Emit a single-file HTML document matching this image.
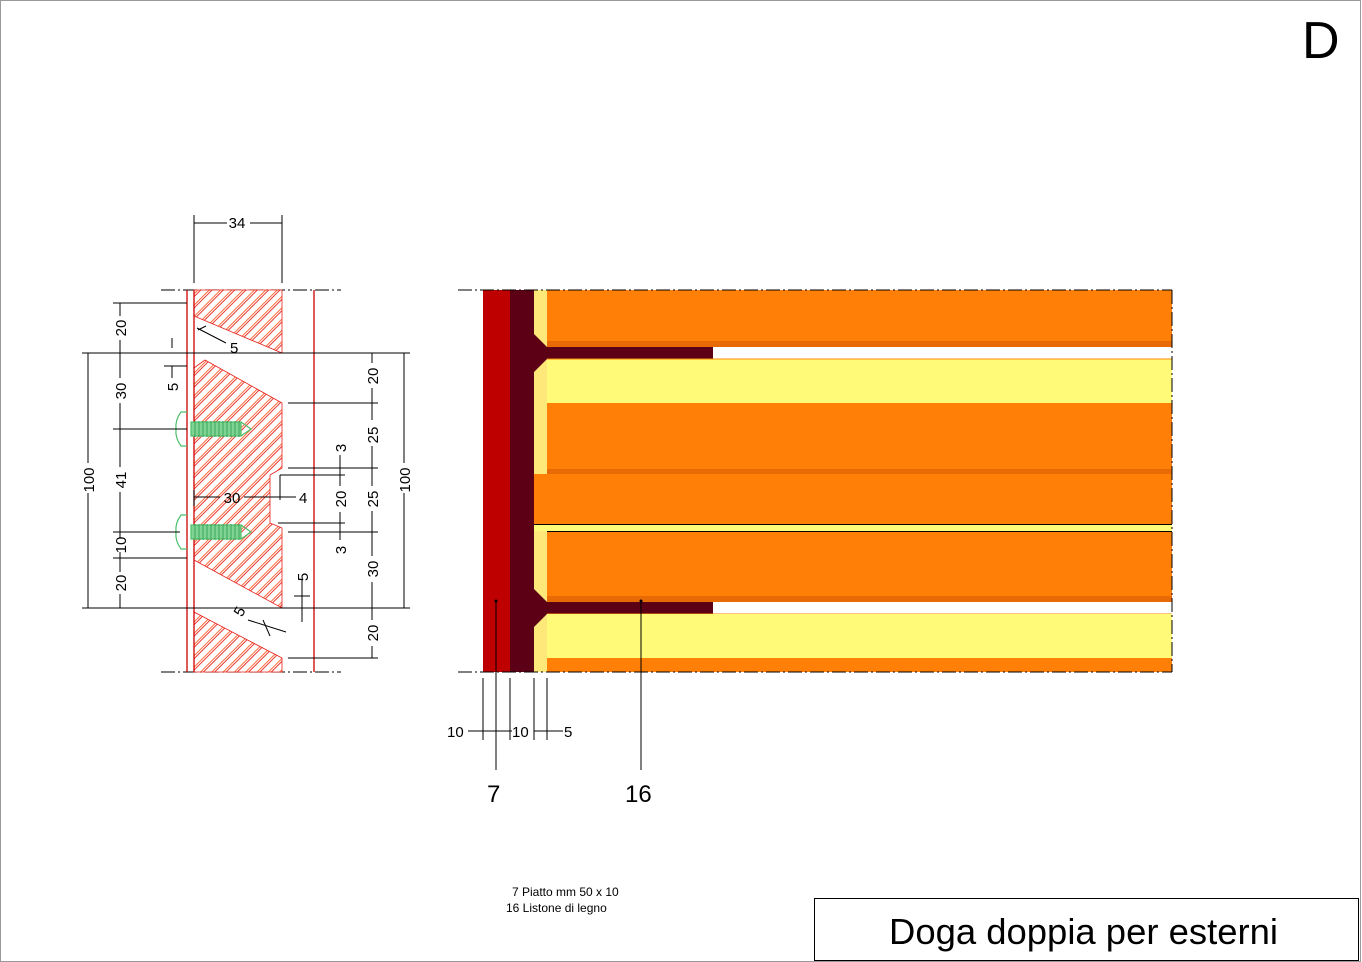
<!DOCTYPE html>
<html><head><meta charset="utf-8"><style>
html,body{margin:0;padding:0;background:#fff}
svg{display:block}
text{font-family:"Liberation Sans",sans-serif;fill:#000}
</style></head><body>
<svg width="1362" height="962" viewBox="0 0 1362 962" xmlns="http://www.w3.org/2000/svg">
<defs>
<pattern id="h" patternUnits="userSpaceOnUse" width="8" height="8" patternTransform="rotate(-45)">
<rect width="8" height="8" fill="#fff"/>
<line x1="0" y1="1" x2="8" y2="1" stroke="#ff5a20" stroke-width="0.9"/>
<line x1="0" y1="3" x2="8" y2="3" stroke="#e8201a" stroke-width="0.9"/>
</pattern>
</defs>
<rect x="0.5" y="0.5" width="1360" height="961" fill="#fff" stroke="#999"/>
<text x="1302" y="58" font-size="52">D</text>

<!-- LEFT SECTION -->
<g stroke="#000" stroke-width="1" stroke-dasharray="14,3,2,3" fill="none">
<line x1="161" y1="290" x2="341" y2="290"/>
<line x1="161" y1="672" x2="341" y2="672"/>
</g>
<polygon points="194,290 282,290 282,353 194,316" fill="url(#h)" stroke="#e8201a" stroke-width="0.8"/>
<polygon points="194,368 205,360 282,403 282,468 270,475 270,523 282,528 282,608 194,560" fill="url(#h)" stroke="#e8201a" stroke-width="0.8"/>
<polygon points="194,612 282,658 282,672 194,672" fill="url(#h)" stroke="#e8201a" stroke-width="0.8"/>
<g stroke="#d00000" stroke-width="1.3">
<line x1="187" y1="290" x2="187" y2="672"/>
<line x1="194" y1="290" x2="194" y2="672"/>
<line x1="314" y1="290" x2="314" y2="672"/>
</g>
<!-- screws -->
<g stroke="#4cbe6a" stroke-width="1.2" fill="none">
<path d="M187,412 h-6 q-6,8 -5,17 q-1,9 5,17 h6"/>
<path d="M187,515 h-6 q-6,8 -5,17 q-1,9 5,17 h6"/>
<rect x="191" y="422" width="50" height="14" fill="#7fd493"/>
<rect x="191" y="525" width="50" height="14" fill="#7fd493"/>
<path d="M241,422 l10,7 l-10,7"/>
<path d="M241,525 l10,7 l-10,7"/>
</g>
<g stroke="#2e9a4a" stroke-width="0.8">
<path d="M195,421 v16 M199,421 v16 M203,421 v16 M207,421 v16 M211,421 v16 M215,421 v16 M219,421 v16 M223,421 v16 M227,421 v16 M231,421 v16 M235,421 v16 M239,421 v16"/>
<path d="M195,524 v16 M199,524 v16 M203,524 v16 M207,524 v16 M211,524 v16 M215,524 v16 M219,524 v16 M223,524 v16 M227,524 v16 M231,524 v16 M235,524 v16 M239,524 v16"/>
</g>
<!-- dimension lines -->
<g stroke="#000" stroke-width="1" fill="none">
<line x1="82" y1="353" x2="410" y2="353"/>
<line x1="82" y1="608" x2="410" y2="608"/>
<line x1="113" y1="303" x2="187" y2="303"/>
<line x1="113" y1="429" x2="187" y2="429"/>
<line x1="113" y1="532" x2="180" y2="532"/>
<line x1="113" y1="558" x2="187" y2="558"/>
<line x1="88" y1="353" x2="88" y2="463"/><line x1="88" y1="493" x2="88" y2="608"/>
<line x1="120" y1="303" x2="120" y2="316"/><line x1="120" y1="340" x2="120" y2="378"/><line x1="120" y1="403" x2="120" y2="467"/><line x1="120" y1="492" x2="120" y2="538"/><line x1="120" y1="552" x2="120" y2="572"/><line x1="120" y1="594" x2="120" y2="608"/>
<line x1="172" y1="338" x2="172" y2="348"/><line x1="164" y1="366" x2="187" y2="366"/><line x1="172" y1="366" x2="172" y2="378"/>
<line x1="194" y1="215" x2="194" y2="283"/><line x1="282" y1="215" x2="282" y2="283"/>
<line x1="194" y1="223" x2="227" y2="223"/><line x1="250" y1="223" x2="282" y2="223"/>
<line x1="194" y1="490" x2="194" y2="506"/><line x1="194" y1="497" x2="220" y2="497"/><line x1="244" y1="497" x2="270" y2="497"/>
<line x1="270" y1="497" x2="296" y2="497"/>
<line x1="288" y1="403" x2="378" y2="403"/>
<line x1="288" y1="468" x2="378" y2="468"/>
<line x1="280" y1="475" x2="345" y2="475"/>
<line x1="278" y1="523" x2="345" y2="523"/>
<line x1="288" y1="532" x2="378" y2="532"/>
<line x1="288" y1="658" x2="378" y2="658"/>
<line x1="280" y1="475" x2="280" y2="500"/>
<line x1="372" y1="353" x2="372" y2="363"/><line x1="372" y1="388" x2="372" y2="420"/><line x1="372" y1="446" x2="372" y2="486"/><line x1="372" y1="511" x2="372" y2="556"/><line x1="372" y1="582" x2="372" y2="620"/><line x1="372" y1="646" x2="372" y2="658"/>
<line x1="404" y1="353" x2="404" y2="463"/><line x1="404" y1="493" x2="404" y2="608"/>
<line x1="340" y1="455" x2="340" y2="486"/><line x1="340" y1="512" x2="340" y2="540"/>
<line x1="302" y1="580" x2="302" y2="622"/><line x1="294" y1="596" x2="310" y2="596"/>
<line x1="197" y1="328" x2="226" y2="343"/><line x1="198" y1="330" x2="206" y2="326"/>
<line x1="248" y1="620" x2="286" y2="632"/><line x1="263" y1="620" x2="270" y2="636"/>
</g>
<g font-size="15">
<text x="237" y="228" text-anchor="middle">34</text>
<text x="230" y="353">5</text>
<text x="232" y="503" text-anchor="middle">30</text>
<text x="299" y="503">4</text>
<g transform="translate(94,480) rotate(-90)"><text text-anchor="middle">100</text></g>
<g transform="translate(126,328) rotate(-90)"><text text-anchor="middle">20</text></g>
<g transform="translate(126,391) rotate(-90)"><text text-anchor="middle">30</text></g>
<g transform="translate(126,480) rotate(-90)"><text text-anchor="middle">41</text></g>
<g transform="translate(126,545) rotate(-90)"><text text-anchor="middle">10</text></g>
<g transform="translate(126,583) rotate(-90)"><text text-anchor="middle">20</text></g>
<g transform="translate(178,387) rotate(-90)"><text text-anchor="middle">5</text></g>
<g transform="translate(378,376) rotate(-90)"><text text-anchor="middle">20</text></g>
<g transform="translate(378,435) rotate(-90)"><text text-anchor="middle">25</text></g>
<g transform="translate(378,499) rotate(-90)"><text text-anchor="middle">25</text></g>
<g transform="translate(378,569) rotate(-90)"><text text-anchor="middle">30</text></g>
<g transform="translate(378,633) rotate(-90)"><text text-anchor="middle">20</text></g>
<g transform="translate(410,480) rotate(-90)"><text text-anchor="middle">100</text></g>
<g transform="translate(346,448) rotate(-90)"><text text-anchor="middle">3</text></g>
<g transform="translate(346,499) rotate(-90)"><text text-anchor="middle">20</text></g>
<g transform="translate(346,550) rotate(-90)"><text text-anchor="middle">3</text></g>
<g transform="translate(308,577) rotate(-90)"><text text-anchor="middle">5</text></g>
<g transform="translate(244,614) rotate(-60)"><text text-anchor="middle">5</text></g>
</g>

<!-- RIGHT SECTION -->
<rect x="483" y="290" width="27" height="382" fill="#be0000"/>
<rect x="510" y="290" width="24" height="382" fill="#5c0016"/>
<rect x="534" y="290" width="13" height="382" fill="#ffe87a"/>
<rect x="547" y="290" width="625" height="51" fill="#ff7f07"/>
<rect x="547" y="341" width="625" height="6" fill="#e86a04"/>
<rect x="547" y="347" width="166" height="12" fill="#5c0016"/>
<rect x="547" y="359" width="625" height="44" fill="#fffa78"/>
<line x1="547" y1="359" x2="1172" y2="359" stroke="#ff8a00"/>
<rect x="547" y="403" width="625" height="66" fill="#ff7f07"/>
<rect x="547" y="469" width="625" height="5" fill="#e86a04"/>
<rect x="534" y="474" width="638" height="50" fill="#ff7f07"/>
<rect x="534" y="524" width="638" height="7" fill="#fffa78"/>
<line x1="534" y1="524.5" x2="1172" y2="524.5" stroke="#000"/>
<line x1="547" y1="531.5" x2="1172" y2="531.5" stroke="#000"/>
<rect x="547" y="532" width="625" height="64" fill="#ff7f07"/>
<rect x="547" y="596" width="625" height="6" fill="#e86a04"/>
<rect x="547" y="602" width="166" height="12" fill="#5c0016"/>
<line x1="547" y1="614" x2="1172" y2="614" stroke="#ff8a00"/>
<rect x="547" y="614" width="625" height="44" fill="#fffa78"/>
<rect x="547" y="658" width="625" height="14" fill="#ff7f07"/>
<polygon points="534,334 547,347 547,359 534,372" fill="#5c0016"/>
<polygon points="534,589 547,602 547,614 534,627" fill="#5c0016"/>
<line x1="1172" y1="290" x2="1172" y2="672" stroke="#000" stroke-dasharray="14,3,2,3"/>
<g stroke="#000" stroke-dasharray="14,3,2,3">
<line x1="458" y1="290" x2="1172" y2="290"/>
<line x1="458" y1="672" x2="1172" y2="672"/>
</g>
<g stroke="#000" stroke-width="1">
<line x1="483" y1="678" x2="483" y2="740"/>
<line x1="510" y1="678" x2="510" y2="740"/>
<line x1="534" y1="678" x2="534" y2="740"/>
<line x1="547" y1="678" x2="547" y2="740"/>
<line x1="468" y1="731" x2="512" y2="731"/>
<line x1="534" y1="731" x2="563" y2="731"/>
<line x1="496" y1="600" x2="496" y2="770"/>
<line x1="641" y1="600" x2="641" y2="770"/>
</g>
<circle cx="496" cy="601" r="1.5"/><circle cx="641" cy="601" r="1.5"/>
<g font-size="15">
<text x="447" y="737">10</text>
<text x="512" y="737">10</text>
<text x="564" y="737">5</text>
</g>
<text x="487" y="802" font-size="24">7</text>
<text x="625" y="802" font-size="24">16</text>
<text x="512" y="896" font-size="12">7  Piatto mm 50 x 10</text>
<text x="506" y="912" font-size="12">16  Listone di legno</text>

<rect x="814.5" y="898.5" width="544" height="62" fill="none" stroke="#000"/>
<text x="889" y="944" font-size="36" textLength="389" lengthAdjust="spacingAndGlyphs">Doga doppia per esterni</text>
</svg>
</body></html>
